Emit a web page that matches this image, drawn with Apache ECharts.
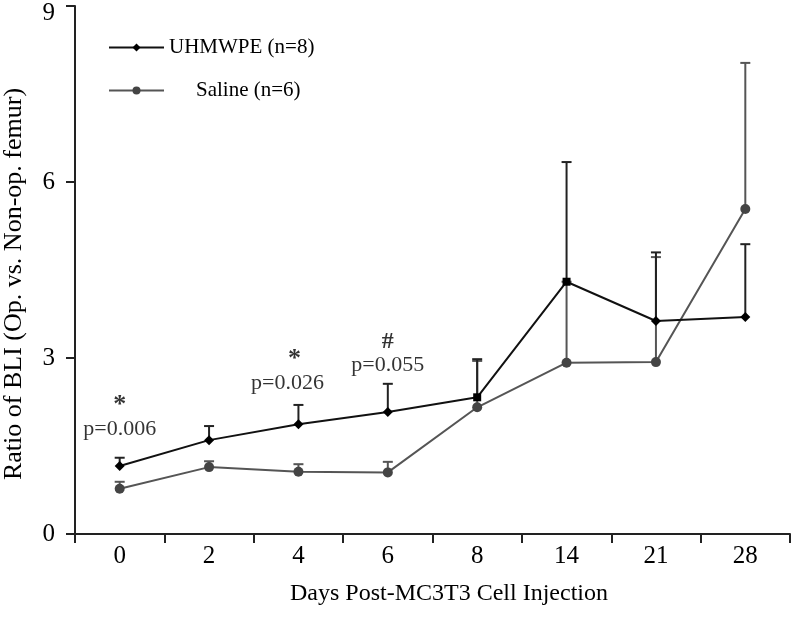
<!DOCTYPE html>
<html>
<head>
<meta charset="utf-8">
<script src="https://cdn.jsdelivr.net/npm/echarts@6/dist/echarts.min.js"></script>
<style>html,body{margin:0;padding:0;background:#fff}#c{width:792px;height:617px}</style>
</head>
<body>
<div id="c"></div>
<script>
const days = ['0', '2', '4', '6', '8', '14', '21', '28'];
const uhmwpe = [1.16, 1.60, 1.87, 2.08, 2.33, 4.30, 3.63, 3.70];
const uhmwpeErrTop = [1.30, 1.84, 2.20, 2.56, 2.98, 6.34, 4.80, 4.94];
const saline = [0.77, 1.14, 1.06, 1.05, 2.16, 2.92, 2.93, 5.54];
const salineErrTop = [0.89, 1.24, 1.19, 1.23, 2.95, 4.30, 4.72, 8.03];
const yTicks = [0, 3, 6, 9];
const annotCats = ['0', '0', '4', '4', '6', '6'];
const annotY = [2.2, 1.79, 2.97, 2.57, 3.27, 2.88];
const annotText = ['*', 'p=0.006', '*', 'p=0.026', '#', 'p=0.055'];

const FONT = 'Liberation Serif';
const TXT = '#000';
const uColor = '#111111';
const sColor = '#555555';

function errSeries(name, vals, tops, color) {
  return {
    type: 'custom',
    name: name + ' err',
    silent: true,
    z: 1,
    data: vals.map((v, i) => [i, v, tops[i]]),
    renderItem: function (params, api) {
      const base = api.coord([api.value(0), api.value(1)]);
      const top = api.coord([api.value(0), api.value(2)]);
      const hw = 5;
      return {
        type: 'group',
        children: [
          {type: 'line', shape: {x1: base[0], y1: base[1], x2: top[0], y2: top[1]}, style: {stroke: color, lineWidth: 2}},
          {type: 'line', shape: {x1: top[0] - hw, y1: top[1], x2: top[0] + hw, y2: top[1]}, style: {stroke: color, lineWidth: 2}}
        ]
      };
    }
  };
}

const annotData = annotCats.map((c, i) => {
  const isSym = annotText[i] === '*' || annotText[i] === '#';
  return {
    value: [c, annotY[i]],
    name: annotText[i],
    label: {
      show: true,
      position: 'inside',
      formatter: annotText[i],
      fontFamily: FONT,
      color: TXT,
      fontWeight: isSym ? 'bold' : 'normal',
      fontSize: isSym ? (annotText[i] === '*' ? 26 : 24) : 22,
      offset: [(!isSym && c === '4') ? -11 : (isSym && c === '4' ? -4 : 0), 0]
    }
  };
});

const yMax = yTicks[yTicks.length - 1];

const chart = echarts.init(document.getElementById('c'));
chart.setOption({
  backgroundColor: '#fff',
  animation: false,
  textStyle: {fontFamily: FONT},
  grid: {left: 75, right: 2, top: 6, bottom: 83, containLabel: false, outerBoundsMode: 'none'},
  legend: {
    orient: 'vertical',
    left: 103,
    top: 32,
    itemWidth: 55,
    itemHeight: 10,
    itemGap: 22,
    data: ['UHMWPE (n=8)', 'Saline (n=6)'],
    formatter: function (n) { return n === 'Saline (n=6)' ? '{s|' + n + '}' : '{u|' + n + '}'; },
    textStyle: {
      fontFamily: FONT, fontSize: 21, color: TXT,
      rich: {
        u: {fontFamily: FONT, fontSize: 21, color: TXT, padding: [0, 0, 0, 0]},
        s: {fontFamily: FONT, fontSize: 21, color: TXT, padding: [0, 0, 0, 27]}
      }
    }
  },
  xAxis: {
    type: 'category',
    data: days,
    boundaryGap: true,
    name: 'Days Post-MC3T3 Cell Injection',
    nameLocation: 'middle',
    nameGap: 48,
    nameTextStyle: {fontFamily: FONT, fontSize: 24, color: TXT, padding: [0, 0, 0, 33]},
    axisLine: {lineStyle: {color: '#222', width: 2}},
    axisTick: {show: true, interval: 0, length: 9, lineStyle: {color: '#222', width: 2}},
    axisLabel: {fontFamily: FONT, fontSize: 25, color: TXT, margin: 10, interval: 0},
    splitLine: {show: false}
  },
  yAxis: {
    type: 'value',
    min: 0,
    max: yMax,
    interval: 3,
    name: 'Ratio of BLI (Op. vs. Non-op. femur)',
    nameLocation: 'middle',
    nameGap: 48,
    nameRotate: 90,
    nameTextStyle: {fontFamily: FONT, fontSize: 26, color: TXT, padding: [0, 28, 0, 0]},
    axisLine: {show: true, lineStyle: {color: '#222', width: 2}},
    axisTick: {show: true, length: 9, lineStyle: {color: '#222', width: 2}},
    axisLabel: {fontFamily: FONT, fontSize: 25, color: TXT, margin: 20, align: 'right',
      formatter: function (v) {
        if (yTicks.indexOf(v) < 0) return '';
        return v === yMax ? '{t|' + v + '}' : '{n|' + v + '}';
      },
      rich: {
        t: {fontFamily: FONT, fontSize: 25, color: TXT, align: 'right', padding: [14, 0, 0, 0]},
        n: {fontFamily: FONT, fontSize: 25, color: TXT, align: 'right'}
      }
    },
    splitLine: {show: false}
  },
  series: [
    errSeries('Saline (n=6)', saline, salineErrTop, sColor),
    errSeries('UHMWPE (n=8)', uhmwpe, uhmwpeErrTop, '#222'),
    {
      name: 'Saline (n=6)',
      type: 'line',
      z: 3,
      data: saline,
      symbol: 'circle',
      symbolSize: 10,
      lineStyle: {color: sColor, width: 2},
      itemStyle: {color: '#444'}
    },
    {
      name: 'UHMWPE (n=8)',
      type: 'line',
      z: 4,
      data: uhmwpe.map((v, i) => (i === 4 || i === 5) ? {value: v, symbol: 'rect', symbolSize: 8} : v),
      symbol: 'diamond',
      symbolSize: 10,
      lineStyle: {color: uColor, width: 2},
      itemStyle: {color: '#000'}
    },
    {
      name: 'annotations',
      type: 'scatter',
      z: 5,
      silent: true,
      symbolSize: 1,
      itemStyle: {color: 'rgba(0,0,0,0)'},
      data: annotData
    }
  ]
});
</script>
</body>
</html>
